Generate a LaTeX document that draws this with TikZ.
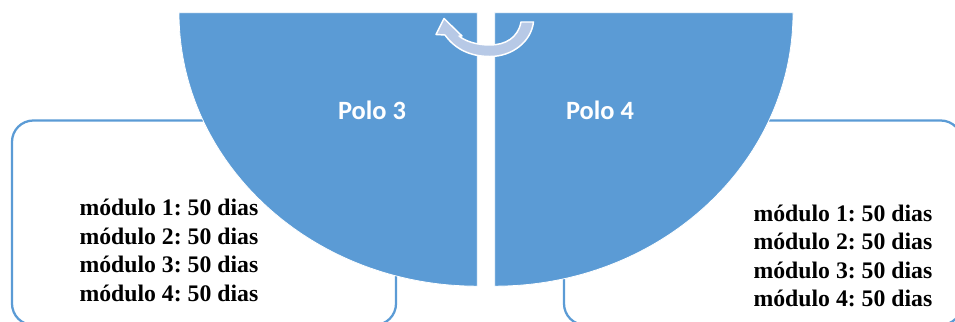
\documentclass[tikz,border=0pt]{standalone}
\usepackage{fontspec}
\setmainfont{Liberation Serif}
\newfontfamily\polofont{Carlito}
\definecolor{pieblue}{RGB}{91,155,213}
\definecolor{arrowblue}{RGB}{183,201,230}
\frenchspacing
\begin{document}
\begin{tikzpicture}[x=0.75pt,y=-0.75pt,
  boxframe/.style={draw=pieblue,line width=1.7pt,rounded corners=16pt},
  piepart/.style={fill=pieblue,draw=white,line width=0.6pt},
  polotext/.style={text=white,font=\polofont\bfseries\fontsize{19.8pt}{23pt}\selectfont,anchor=base,inner sep=0pt},
  modtext/.style={text=black,font=\bfseries\fontsize{17.8pt}{21pt}\selectfont,anchor=base west,inner sep=0pt},
  cyclearrow/.style={fill=arrowblue,draw=white,line width=1.1pt,line join=round}]
\useasboundingbox (0,0) rectangle (955,321);
\begin{scope}
\clip (0,0) rectangle (955,321);
% frames behind
\draw[boxframe] (12,120.5) rectangle (396,325);
\draw[boxframe] (564,120.5) rectangle (962,325);
% quarter shapes
\path[piepart] (477.3,12.7) -- (179,12.7) arc[start angle=180,end angle=270,x radius=223.7pt,y radius=205.1pt] -- cycle;
\path[piepart] (494.7,12.7) -- (793,12.7) arc[start angle=0,end angle=-90,x radius=223.7pt,y radius=205.1pt] -- cycle;
% circular arrow
\path[cyclearrow] (521,22) .. controls (518,38) and (505,45) .. (490,45)
   .. controls (476,45) and (465,41) .. (459,36) -- (462,36) -- (444,18.5) -- (436,34.5) -- (445,35)
   .. controls (455,49) and (470,56.5) .. (490,56.5)
   .. controls (512,56.5) and (531,42) .. (533.5,22) -- cycle;
\end{scope}
\node[polotext] (p3) at (372,119.3) {Polo 3};
\node[polotext] (p4) at (600,119.3) {Polo 4};
\node[modtext] (l1) at (79.3,215.7) {módulo 1: 50 dias};
\node[modtext] (l2) at (79.3,244.2) {módulo 2: 50 dias};
\node[modtext] (l3) at (79.3,272.7) {módulo 3: 50 dias};
\node[modtext] (l4) at (79.3,301.2) {módulo 4: 50 dias};
\node[modtext] (r1) at (753.3,221) {módulo 1: 50 dias};
\node[modtext] (r2) at (753.3,249.5) {módulo 2: 50 dias};
\node[modtext] (r3) at (753.3,278) {módulo 3: 50 dias};
\node[modtext] (r4) at (753.3,306.5) {módulo 4: 50 dias};
\end{tikzpicture}
\end{document}
